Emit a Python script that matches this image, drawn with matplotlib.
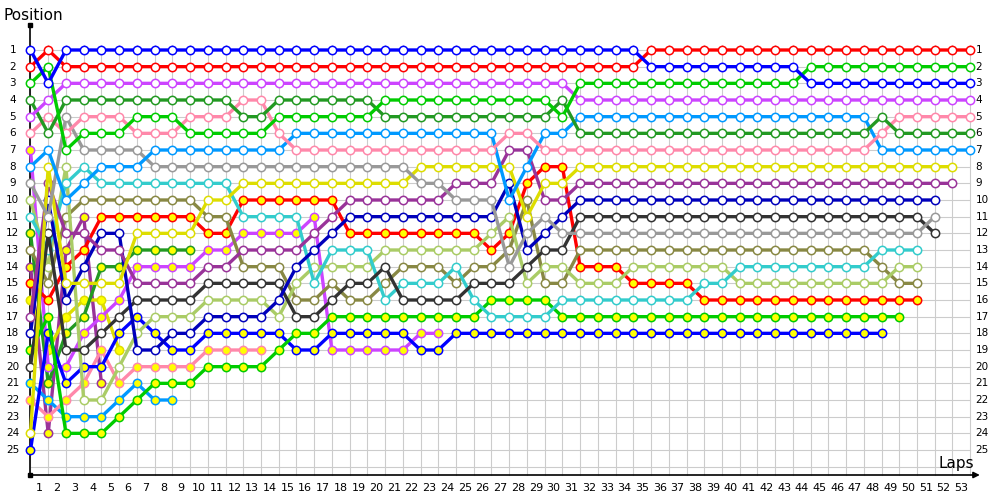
import matplotlib.pyplot as plt

# positions per lap (index 0 = grid, 1..53 = laps); shorter lists = retired / lapped finish
blue = [1, 3, 1, 1, 1, 1, 1, 1, 1, 1,
        1, 1, 1, 1, 1, 1, 1, 1, 1, 1,
        1, 1, 1, 1, 1, 1, 1, 1, 1, 1,
        1, 1, 1, 1, 1, 2, 2, 2, 2, 2,
        2, 2, 2, 2, 3, 3, 3, 3, 3, 3,
        3, 3, 3, 3]
red = [2, 1, 2, 2, 2, 2, 2, 2, 2, 2,
       2, 2, 2, 2, 2, 2, 2, 2, 2, 2,
       2, 2, 2, 2, 2, 2, 2, 2, 2, 2,
       2, 2, 2, 2, 2, 1, 1, 1, 1, 1,
       1, 1, 1, 1, 1, 1, 1, 1, 1, 1,
       1, 1, 1, 1]
green = [3, 2, 7, 6, 6, 6, 5, 5, 5, 6,
         6, 6, 6, 6, 5, 5, 5, 5, 5, 5,
         4, 4, 4, 4, 4, 4, 4, 4, 4, 4,
         5, 3, 3, 3, 3, 3, 3, 3, 3, 3,
         3, 3, 3, 3, 2, 2, 2, 2, 2, 2,
         2, 2, 2, 2]
purple = [5, 4, 3, 3, 3, 3, 3, 3, 3, 3,
          3, 3, 3, 3, 3, 3, 3, 3, 3, 3,
          3, 3, 3, 3, 3, 3, 3, 3, 3, 3,
          3, 4, 4, 4, 4, 4, 4, 4, 4, 4,
          4, 4, 4, 4, 4, 4, 4, 4, 4, 4,
          4, 4, 4, 4]
dark_green = [4, 6, 4, 4, 4, 4, 4, 4, 4, 4,
              4, 4, 5, 5, 4, 4, 4, 4, 4, 4,
              5, 5, 5, 5, 5, 5, 5, 5, 5, 5,
              4, 6, 6, 6, 6, 6, 6, 6, 6, 6,
              6, 6, 6, 6, 6, 6, 6, 6, 5, 6,
              6, 6, 6, 6]
pink = [6, 5, 6, 5, 5, 5, 6, 6, 6, 5,
        5, 5, 4, 4, 6, 7, 7, 7, 7, 7,
        7, 7, 7, 7, 7, 7, 7, 6, 6, 7,
        7, 7, 7, 7, 7, 7, 7, 7, 7, 7,
        7, 7, 7, 7, 7, 7, 7, 7, 6, 5,
        5, 5, 5, 5]
light_blue = [8, 7, 10, 9, 8, 8, 8, 7, 7, 7,
              7, 7, 7, 7, 7, 6, 6, 6, 6, 6,
              6, 6, 6, 6, 6, 6, 6, 10, 8, 6,
              6, 5, 5, 5, 5, 5, 5, 5, 5, 5,
              5, 5, 5, 5, 5, 5, 5, 5, 7, 7,
              7, 7, 7, 7]
gray = [9, 11, 5, 7, 7, 7, 7, 8, 8, 8,
        8, 8, 8, 8, 8, 8, 8, 8, 8, 8,
        8, 8, 9, 9, 10, 10, 10, 14, 12, 11,
        12, 12, 12, 12, 12, 12, 12, 12, 12, 12,
        12, 12, 12, 12, 12, 12, 12, 12, 12, 12,
        12, 11]
yellow = [24, 8, 15, 15, 15, 15, 12, 12, 12, 12,
          10, 10, 9, 9, 9, 9, 9, 9, 9, 9,
          9, 9, 8, 8, 8, 8, 8, 8, 11, 9,
          9, 8, 8, 8, 8, 8, 8, 8, 8, 8,
          8, 8, 8, 8, 8, 8, 8, 8, 8, 8,
          8, 8, 8]
dark_purple = [17, 9, 12, 12, 13, 13, 15, 15, 15, 15,
               14, 14, 13, 13, 13, 13, 12, 11, 10, 10,
               10, 10, 10, 10, 9, 9, 9, 7, 7, 10,
               10, 9, 9, 9, 9, 9, 9, 9, 9, 9,
               9, 9, 9, 9, 9, 9, 9, 9, 9, 9,
               9, 9, 9]
dark_blue = [18, 10, 16, 14, 12, 12, 19, 19, 18, 18,
             17, 17, 17, 17, 16, 14, 13, 12, 11, 11,
             11, 11, 11, 11, 11, 11, 11, 9, 13, 12,
             11, 10, 10, 10, 10, 10, 10, 10, 10, 10,
             10, 10, 10, 10, 10, 10, 10, 10, 10, 10,
             10, 10]
dark_gray = [20, 12, 19, 19, 18, 17, 16, 16, 16, 16,
             15, 15, 15, 15, 15, 17, 17, 16, 15, 15,
             14, 16, 16, 16, 16, 15, 15, 15, 14, 13,
             13, 11, 11, 11, 11, 11, 11, 11, 11, 11,
             11, 11, 11, 11, 11, 11, 11, 11, 11, 11,
             11, 12]
cyan = [11, 13, 9, 8, 9, 9, 9, 9, 9, 9,
        9, 9, 11, 11, 11, 11, 15, 13, 13, 13,
        16, 15, 15, 15, 14, 16, 17, 17, 17, 17,
        16, 16, 16, 16, 16, 16, 16, 16, 15, 15,
        14, 14, 14, 14, 14, 14, 14, 14, 13, 13,
        13]
light_olive = [10, 14, 8, 22, 22, 20, 18, 17, 17, 17,
               16, 16, 16, 16, 17, 15, 14, 14, 14, 14,
               13, 13, 13, 13, 13, 13, 12, 11, 15, 14,
               14, 15, 15, 15, 14, 14, 14, 14, 14, 14,
               15, 15, 15, 15, 15, 15, 15, 15, 15, 14,
               14]
olive = [13, 15, 11, 10, 10, 10, 10, 10, 10, 10,
         11, 11, 14, 14, 14, 16, 16, 15, 16, 16,
         15, 14, 14, 14, 15, 14, 14, 13, 10, 15,
         15, 13, 13, 13, 13, 13, 13, 13, 13, 13,
         13, 13, 13, 13, 13, 13, 13, 13, 14, 15,
         15]
red_2 = [15, 16, 14, 13, 11, 11, 11, 11, 11, 11,
         12, 12, 10, 10, 10, 10, 10, 10, 12, 12,
         12, 12, 12, 12, 12, 12, 13, 12, 9, 8,
         8, 14, 14, 14, 15, 15, 15, 15, 16, 16,
         16, 16, 16, 16, 16, 16, 16, 16, 16, 16,
         16]
green_2 = [19, 17, 24, 24, 24, 23, 22, 21, 21, 21,
           20, 20, 20, 20, 19, 18, 18, 17, 17, 17,
           17, 17, 17, 17, 17, 17, 16, 16, 16, 16,
           17, 17, 17, 17, 17, 17, 17, 17, 17, 17,
           17, 17, 17, 17, 17, 17, 17, 17, 17, 17]
blue_2 = [25, 18, 21, 20, 20, 18, 17, 18, 19, 19,
          18, 18, 18, 18, 18, 19, 19, 18, 18, 18,
          18, 18, 19, 19, 18, 18, 18, 18, 18, 18,
          18, 18, 18, 18, 18, 18, 18, 18, 18, 18,
          18, 18, 18, 18, 18, 18, 18, 18, 18]
purple_2 = [7, 20, 20, 18, 17, 16, 14, 14, 14, 14,
            13, 13, 12, 12, 12, 12, 11, 19, 19, 19,
            19, 19, 18, 18]
pink_2 = [22, 23, 22, 21, 19, 21, 20, 20, 20, 20,
          19, 19, 19, 19]
light_blue_2 = [21, 22, 23, 23, 23, 22, 21, 22, 22]
dark_green_2 = [12, 21, 18, 17, 14, 14, 13, 13, 13, 13]
yellow_2 = [16, 19, 17, 16, 16, 19]
dark_purple_2 = [14, 24, 13, 11, 21]

n_laps = 53
n_pos = 25

# (positions, line colour, marker fill)
cars = [
    (dark_purple_2, "#993399", "#ffff00"),
    (yellow_2, "#dddd00", "#ffff00"),
    (dark_green_2, "#229922", "#ffff00"),
    (light_blue_2, "#0099ff", "#ffff00"),
    (pink_2, "#ff88aa", "#ffff00"),
    (purple_2, "#cc44ff", "#ffff00"),
    (blue_2, "#0000ff", "#ffff00"),
    (green_2, "#00cc00", "#ffff00"),
    (red_2, "#ff0000", "#ffff00"),
    (olive, "#888844", "white"),
    (light_olive, "#aacc66", "white"),
    (cyan, "#33cccc", "white"),
    (dark_gray, "#333333", "white"),
    (dark_blue, "#0000bb", "white"),
    (dark_purple, "#993399", "white"),
    (yellow, "#dddd00", "white"),
    (gray, "#999999", "white"),
    (light_blue, "#0099ff", "white"),
    (pink, "#ff88aa", "white"),
    (dark_green, "#229922", "white"),
    (purple, "#cc44ff", "white"),
    (green, "#00cc00", "white"),
    (red, "#ff0000", "white"),
    (blue, "#0000ff", "white"),
]

px = 17.73  # pixels per lap
fig = plt.figure(figsize=(10, 5), dpi=100)
ax = fig.add_axes([0, 0, 1, 1])
ax.set_xlim(-30.5 / px, (1000 - 30.5) / px)
ax.set_ylim(28.0, -2.0)
ax.axis("off")

# grid
for lap in range(n_laps + 1):
    ax.plot([lap, lap], [0.7, 26.5], color="#cccccc", lw=0.8, zorder=0)
for p in range(1, n_pos + 2):
    ax.plot([0, n_laps], [p, p], color="#cccccc", lw=0.8, zorder=0)

# axes lines
ax.plot([0, 0], [-0.5, 26.5], color="black", lw=1.2, zorder=1)
ax.plot([0, 53.3], [26.5, 26.5], color="black", lw=1.2, zorder=1)
ax.annotate("", xy=(53.7, 26.5), xytext=(53.0, 26.5),
            arrowprops=dict(arrowstyle="-|>", color="black", lw=1.2, mutation_scale=9))
ax.plot([0], [-0.5], marker="s", color="black", ms=3)
ax.plot([0], [26.5], marker="s", color="black", ms=3)

for pos, col, fill in cars:
    laps = list(range(len(pos)))
    ax.plot(laps, pos, color=col, lw=2.4, zorder=3, solid_joinstyle="round",
            marker="o", ms=6, mfc=fill, mec=col, mew=1.1)

for p in range(1, n_pos + 1):
    ax.text(-1.0, p, str(p), ha="center", va="center", fontsize=7.5)
    ax.text(53.3, p, str(p), ha="left", va="center", fontsize=7.5)
for lap in range(1, n_laps + 1):
    ax.text(lap - 0.5, 27.3, str(lap), ha="center", va="center", fontsize=8)

ax.text(-1.5, -1.1, "Position", ha="left", va="center", fontsize=11)
ax.text(53.25, 25.8, "Laps", ha="right", va="center", fontsize=11)

fig.savefig("out.png", dpi=100, facecolor="white")
